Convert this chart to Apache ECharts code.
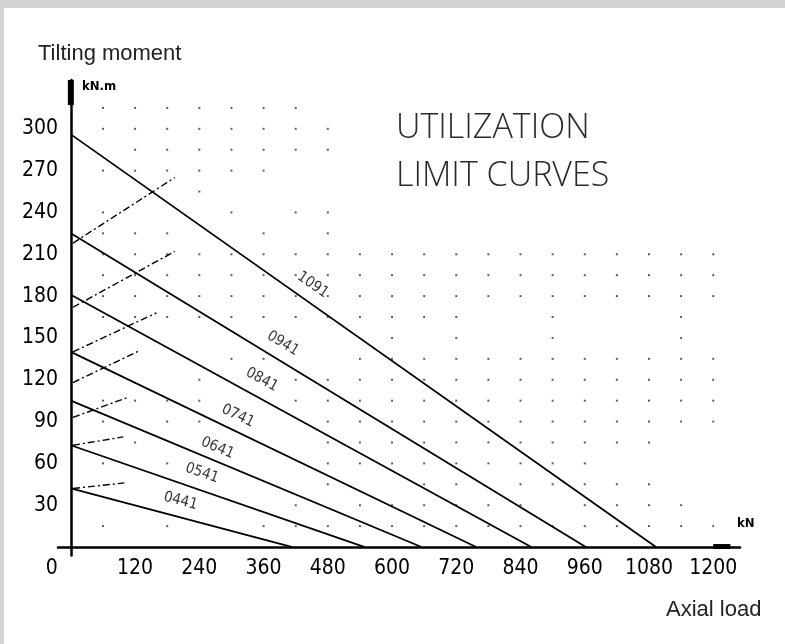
<!DOCTYPE html>
<html><head><meta charset="utf-8">
<style>html,body{margin:0;padding:0;background:#fff}#c{width:785px;height:644px}</style>
<script src="https://cdn.jsdelivr.net/npm/echarts@6/dist/echarts.min.js"></script>
</head><body><div id="c"></div>
<script>
// ---- data ----
const curveNames   = ['1091', '0941', '0841', '0741', '0641', '0541', '0441'];
const yIntercepts  = [296, 225, 181, 140, 105, 73, 42];      // tilting moment at zero axial load
const xIntercepts  = [1093, 962, 860, 757, 655, 549, 414];   // axial load at zero moment
const labelX       = [452, 396, 357, 312, 274, 245, 205];    // label anchor along each curve
const labelY       = [188, 146, 120, 94, 71, 53, 33];

const dashStartX = [4, 4, 4, 4, 4, 4, 4];
const dashStartY = [218, 172, 140, 118, 93, 73, 42];
const dashEndX   = [194, 194, 160, 129, 104, 98, 100];
const dashEndY   = [265, 212, 168, 141, 107, 79, 46];

const xTickValues = [0, 120, 240, 360, 480, 600, 720, 840, 960, 1080, 1200];
const yTickValues = [30, 60, 90, 120, 150, 180, 210, 240, 270, 300];

const dotRowValues = [315, 300, 285, 270, 255, 240, 225, 210, 195, 180, 165, 150, 135, 120, 105, 90, 75, 60, 45, 30, 15];
const dotRowColumns = [
  [60,120,180,240,300,360,420],
  [60,120,180,240,300,360,420,480],
  [120,180,240,300,360,420,480],
  [60,120,180,240,300,360],
  [240],
  [60,300,420,480],
  [60,120,180,360,480],
  [60,120,180,240,300,360,420,480,540,600,660,720,780,840,900,960,1020,1080,1140,1200],
  [60,120,180,240,300,360,420,480,540,600,660,720,780,840,900,960,1020,1080,1140,1200],
  [60,120,180,240,300,360,420,480,540,600,660,720,780,840,900,960,1020,1080,1140,1200],
  [60,120,180,240,300,360,420,480,540,600,660,720,900,1140],
  [600,720,900,1140],
  [300,360,540,600,660,720,780,840,900,960,1020,1080,1140,1200],
  [240,420,480,540,600,660,720,780,840,900,960,1020,1080,1140,1200],
  [60,120,180,240,420,480,540,600,660,720,780,840,900,960,1020,1080,1140,1200],
  [60,180,240,480,540,600,660,720,780,840,900,960,1020,1080,1140,1200],
  [120,480,540,600,660,720,780,840,900,960,1020,1080],
  [60,180,480,540,600,660,720,780,840,900,960],
  [480,660,720,840,900,960,1020,1080],
  [420,540,600,660,720,780,840,960,1020,1080,1140],
  [60,180,360,420,480,540,600,660,720,780,840,900,960,1020,1080,1140,1200]
];

// ---- styles ----
const numFont = "'DejaVu Sans Condensed', 'Liberation Sans Narrow', 'DejaVu Sans', sans-serif";
const textFont = "'Liberation Sans', Arial, sans-serif";
const titleFont = "'Open Sans', Roboto, 'Liberation Sans', sans-serif";

const dotData = [];
dotRowValues.forEach((yv, i) => dotRowColumns[i].forEach(xv => dotData.push([xv, yv])));

const series = [];
series.push({
  id: 'dots', type: 'scatter', data: dotData, symbol: 'rect', symbolSize: 2,
  itemStyle: { color: '#333' }, silent: true, z: 1
});
curveNames.forEach((n, i) => {
  series.push({
    id: 'curve' + i, type: 'line', data: [[0, yIntercepts[i]], [xIntercepts[i], 0]],
    showSymbol: false, symbol: 'none', silent: true,
    lineStyle: { color: '#000', width: 1.8 }, z: 3
  });
});
dashStartX.forEach((x0, i) => {
  series.push({
    id: 'dash' + i, type: 'line', data: [[x0, dashStartY[i]], [dashEndX[i], dashEndY[i]]],
    showSymbol: false, symbol: 'none', silent: true,
    lineStyle: { color: '#000', width: 1.4, type: [7, 3, 2, 3] }, z: 3
  });
});
function labelData(rots) {
  return curveNames.map((n, i) => ({
    name: n, value: [labelX[i], labelY[i]],
    label: { rotate: rots ? rots[i] : 0 }
  }));
}
series.push({
  id: 'labels', type: 'scatter', symbolSize: 0, silent: true, z: 4,
  data: labelData(null),
  label: { show: true, position: 'inside', formatter: p => p.name,
    fontFamily: numFont, fontSize: 15, color: '#000' }
});

const chart = echarts.init(document.getElementById('c'), null, { renderer: 'canvas' });
const option = {
  animation: false,
  backgroundColor: '#fff',
  grid: { left: 58, right: 45, top: 80, bottom: 88.6, containLabel: false, outerBoundsMode: 'none' },
  xAxis: {
    type: 'value', min: -24, max: 1250,
    axisLine: { onZero: true, lineStyle: { color: '#000', width: 2.5 } },
    axisTick: { show: false }, splitLine: { show: false },
    axisLabel: {
      customValues: xTickValues, margin: 3, color: '#000', fontFamily: numFont, fontSize: 21,
      formatter: v => v === 0 ? '{z|0}' : String(v),
      rich: { z: { padding: [0, 38, 0, 0], fontFamily: numFont, fontSize: 21, color: '#000' } }
    }
  },
  yAxis: {
    type: 'value', min: -6, max: 335,
    axisLine: { onZero: true, lineStyle: { color: '#000', width: 2.5 } },
    axisTick: { show: false }, splitLine: { show: false },
    axisLabel: { customValues: yTickValues, margin: 0, color: '#000', fontFamily: numFont, fontSize: 21 }
  },
  graphic: [
    { type: 'rect', id: 'bgTop', shape: { x: 0, y: 0, width: 785, height: 8 }, style: { fill: '#d3d3d3' }, z: 100 },
    { type: 'rect', id: 'bgLeft', shape: { x: 0, y: 0, width: 4, height: 644 }, style: { fill: '#d3d3d3' }, z: 100 },
    { type: 'text', id: 't1', left: 38, top: 43, style: { text: 'Tilting moment', fontFamily: textFont, fontSize: 22, fill: '#222' } },
    { type: 'text', id: 't2', left: 666, top: 599, style: { text: 'Axial load', fontFamily: textFont, fontSize: 22, fill: '#222' } },
    { type: 'text', id: 't3', left: 396, top: 111, style: { text: 'UTILIZATION', fontFamily: titleFont, fontWeight: 300, fontSize: 34, fill: '#2a2a2a' } },
    { type: 'text', id: 't4', left: 396, top: 159, style: { text: 'LIMIT CURVES', fontFamily: titleFont, fontWeight: 300, fontSize: 34, fill: '#2a2a2a' } },
    { type: 'text', id: 'u1', left: 82, top: 80, style: { text: 'kN.m', fontFamily: numFont, fontSize: 13, fontWeight: 'bold', fill: '#000' } },
    { type: 'text', id: 'u2', left: 737, top: 517, style: { text: 'kN', fontFamily: numFont, fontSize: 13, fontWeight: 'bold', fill: '#000' } }
  ],
  series: series
};
chart.setOption(option);

// rotate labels along their curves and add thick axis ends, using the chart's own scales
const rots = curveNames.map((n, i) => {
  const p0 = chart.convertToPixel({ gridIndex: 0 }, [0, yIntercepts[i]]);
  const p1 = chart.convertToPixel({ gridIndex: 0 }, [xIntercepts[i], 0]);
  return -Math.atan2(p1[1] - p0[1], p1[0] - p0[0]) * 180 / Math.PI;
});
const yTopA = chart.convertToPixel({ gridIndex: 0 }, [0, 335]);
const yTopB = chart.convertToPixel({ gridIndex: 0 }, [0, 317]);
const xEndA = chart.convertToPixel({ gridIndex: 0 }, [1200, 0]);
const xEndB = chart.convertToPixel({ gridIndex: 0 }, [1232, 0]);
chart.setOption({
  series: [{ id: 'labels', data: labelData(rots) }],
  graphic: [
    { type: 'rect', id: 'yArrow', shape: { x: yTopA[0] - 3, y: yTopA[1], width: 6, height: yTopB[1] - yTopA[1] }, style: { fill: '#000' }, z: 50 },
    { type: 'rect', id: 'xArrow', shape: { x: xEndA[0], y: xEndA[1] - 3, width: xEndB[0] - xEndA[0], height: 5 }, style: { fill: '#000' }, z: 50 }
  ]
});
</script></body></html>
